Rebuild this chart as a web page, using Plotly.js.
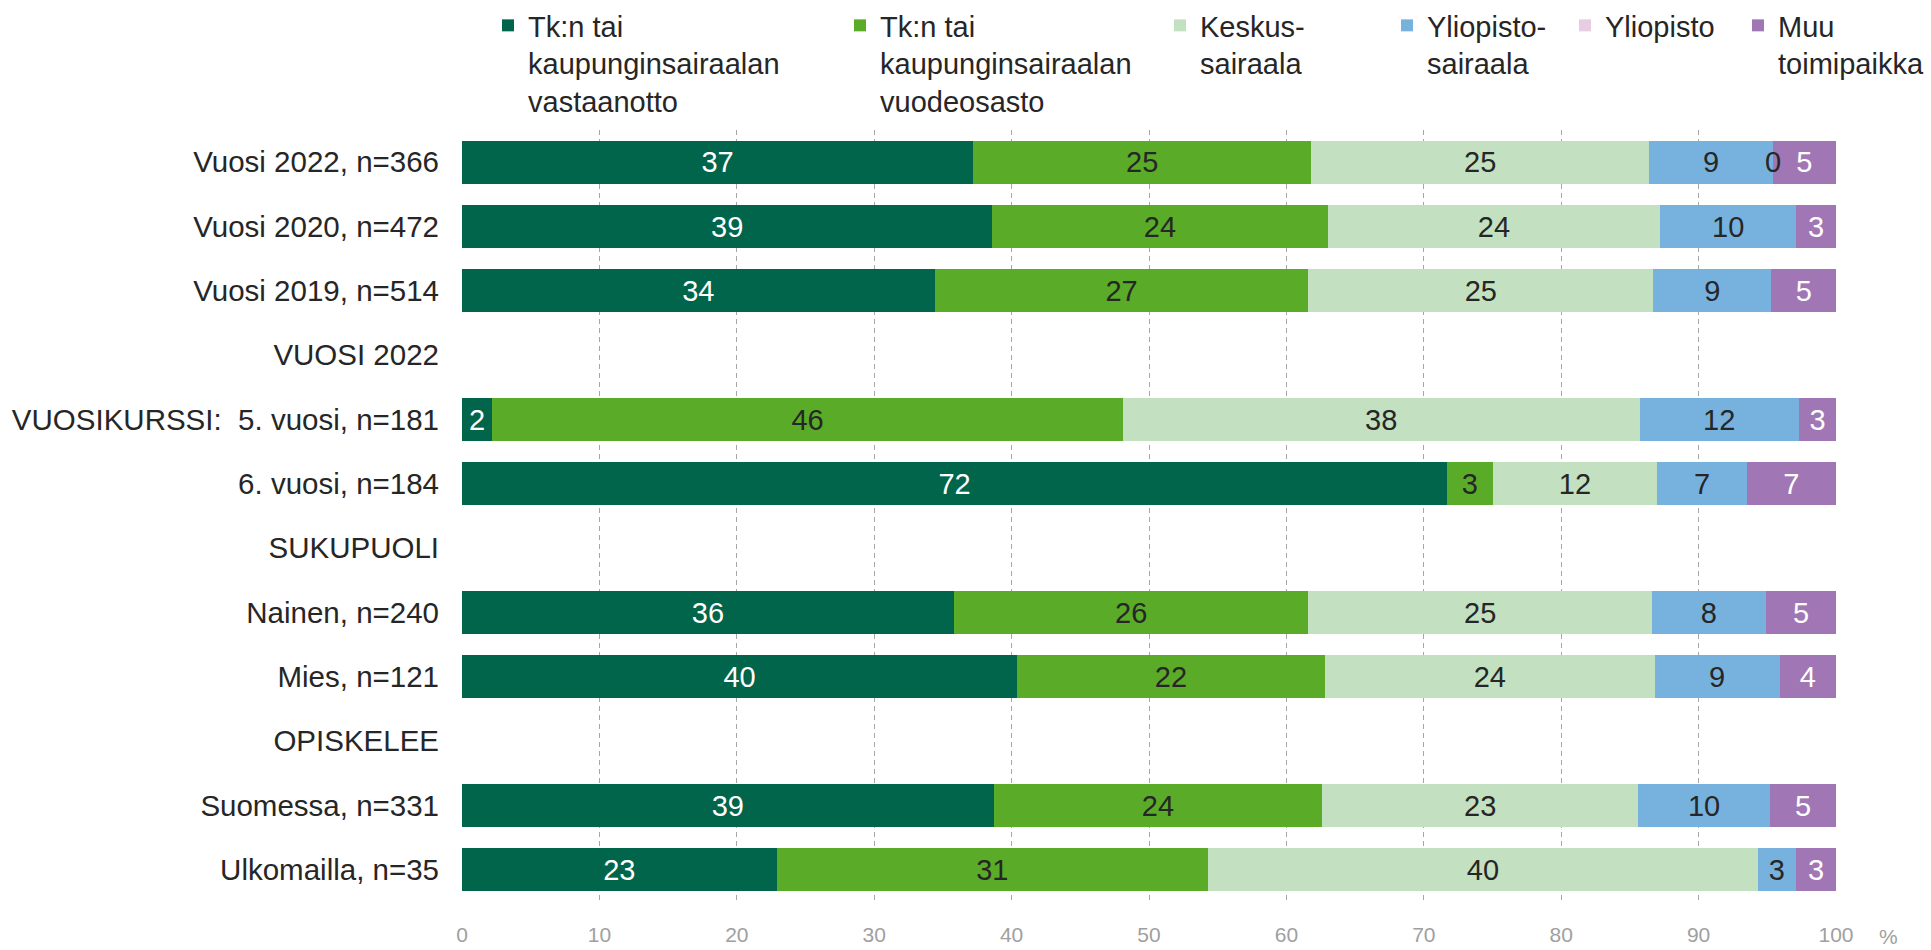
<!DOCTYPE html>
<html><head><meta charset="utf-8">
<script src="https://cdn.plot.ly/plotly-3.0.1.min.js"></script>
<style>html,body{margin:0;padding:0;background:#fff;} #chart{width:1931px;height:950px;}</style>
</head><body><div id="chart"></div>
<script>
// Row categories (top to bottom)
const categories = [
  "Vuosi 2022, n=366", "Vuosi 2020, n=472", "Vuosi 2019, n=514",
  "VUOSI 2022",
  "VUOSIKURSSI:\u00a0 5. vuosi, n=181", "6. vuosi, n=184",
  "SUKUPUOLI",
  "Nainen, n=240", "Mies, n=121",
  "OPISKELEE",
  "Suomessa, n=331", "Ulkomailla, n=35"
];
// Series names
const seriesNames = [
  "Tk:n tai<br>kaupunginsairaalan<br>vastaanotto",
  "Tk:n tai<br>kaupunginsairaalan<br>vuodeosasto",
  "Keskus-<br>sairaala",
  "Yliopisto-<br>sairaala",
  "Yliopisto",
  "Muu<br>toimipaikka"
];
// Values (%)
const tkVastaanotto = [37.2, 38.6, 34.4, null, 2.2, 71.7, null, 35.8, 40.4, null, 38.7, 22.9];
const tkVuodeosasto = [24.6, 24.4, 27.2, null, 45.9, 3.3, null, 25.8, 22.4, null, 23.9, 31.4];
const keskussairaala = [24.6, 24.2, 25.1, null, 37.6, 12.0, null, 25.0, 24.0, null, 23.0, 40.0];
const yliopistosairaala = [9.0, 9.9, 8.6, null, 11.6, 6.5, null, 8.3, 9.1, null, 9.6, 2.8];
const yliopisto = [0, null, null, null, null, null, null, null, null, null, null, null];
const muuToimipaikka = [4.6, 2.9, 4.7, null, 2.7, 6.5, null, 5.1, 4.1, null, 4.8, 2.9];
const xTicks = [0, 10, 20, 30, 40, 50, 60, 70, 80, 90, 100];

const seriesValues = [tkVastaanotto, tkVuodeosasto, keskussairaala, yliopistosairaala, yliopisto, muuToimipaikka];
const colors = ["#00654b", "#5aab28", "#c3e1c1", "#77b2de", "#e6cde2", "#a077b4"];
const textColors = ["#ffffff", "#262626", "#262626", "#262626", "#262626", "#ffffff"];
// legend marker left edges (px)
const legendX = [508, 860, 1180, 1407, 1585, 1758];

const FONT = "Liberation Sans, Arial, sans-serif";

const traces = seriesValues.map((vals, i) => ({
  type: "bar",
  orientation: "h",
  name: seriesNames[i],
  y: categories,
  x: vals,
  marker: { color: colors[i], line: { width: 0 } },
  texttemplate: i === 4 ? "" : "%{x:.0f}",
  textposition: "inside",
  insidetextanchor: "middle",
  textangle: 0,
  insidetextfont: { family: FONT, size: 29, color: textColors[i] },
  legend: i === 0 ? "legend" : "legend" + (i + 1),
  hoverinfo: "x+y+name"
}));

// label for the zero-valued Yliopisto segment of the first row
const annotations = [];
yliopisto.forEach((v, r) => {
  if (v === 0) {
    const pos = tkVastaanotto[r] + tkVuodeosasto[r] + keskussairaala[r] + yliopistosairaala[r];
    annotations.push({
      x: pos, y: categories[r], xref: "x", yref: "y", text: String(v),
      showarrow: false, font: { family: FONT, size: 29, color: "#262626" },
      xanchor: "center", yanchor: "middle"
    });
  }
});
annotations.push({
  x: 1.038, y: -0.045, xref: "paper", yref: "paper", text: "%",
  showarrow: false, font: { family: FONT, size: 21, color: "#a0a0a0" },
  xanchor: "center", yanchor: "middle"
});

const layout = {
  width: 1931, height: 950,
  margin: { l: 462, r: 95, t: 130, b: 48, autoexpand: false },
  paper_bgcolor: "#ffffff", plot_bgcolor: "#ffffff",
  barmode: "stack",
  bargap: 0.33,
  font: { family: FONT, size: 29, color: "#262626" },
  xaxis: {
    range: [0, 100], tickvals: xTicks, ticktext: xTicks.map(String),
    showgrid: true, gridcolor: "#a6a6a6", gridwidth: 1, griddash: "5px,4px",
    zeroline: false, showline: false, ticks: "",
    tickfont: { family: FONT, size: 21, color: "#a0a0a0" },
    ticklabelstandoff: 18, fixedrange: true, automargin: false
  },
  yaxis: {
    type: "category", categoryorder: "array", categoryarray: categories,
    autorange: "reversed", showgrid: false, zeroline: false, showline: false,
    ticks: "", ticklabelstandoff: 22, automargin: false,
    tickfont: { family: FONT, size: 29.5, color: "#262626" }, fixedrange: true
  },
  annotations: annotations,
  showlegend: true
};
legendX.forEach((px, i) => {
  const key = i === 0 ? "legend" : "legend" + (i + 1);
  layout[key] = {
    x: (px - 20) / 1931, xref: "container", xanchor: "left",
    y: 1.0125, yref: "container", yanchor: "top",
    orientation: "v", valign: "top",
    bgcolor: "rgba(0,0,0,0)", borderwidth: 0,
    font: { family: FONT, size: 29, color: "#262626" }
  };
});

Plotly.newPlot("chart", traces, layout, { displayModeBar: false, staticPlot: true });
</script>
</body></html>
